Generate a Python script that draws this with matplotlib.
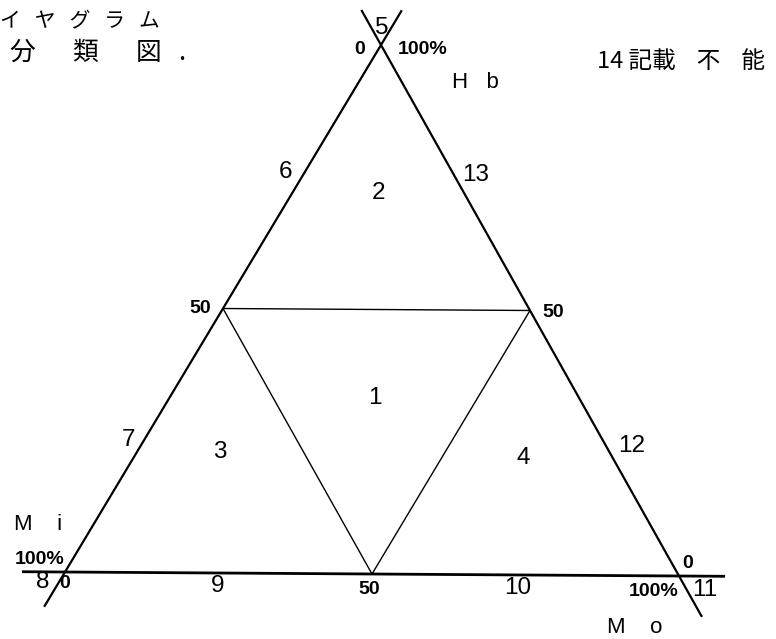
import matplotlib
matplotlib.use("Agg")
import matplotlib.pyplot as plt
from matplotlib.transforms import Affine2D, offset_copy

# ---------------- data ----------------
components = ["Hb", "Mi", "Mo"]
tick_values = [0, 50, 100]
tick_texts = ["0", "50", "100%"]

# region numbers with their ternary positions (Hb %, Mo %); Mi = 100 - Hb - Mo
region_ids = ["1", "2", "3", "4", "5", "6", "7", "8", "9", "10", "11", "12", "13"]
region_hb = [33.3, 72.0, 22.8, 22.1, 103.2, 75.9, 25.0, -1.9, -2.5, -2.5, -2.6, 24.5, 75.5]
region_mo = [33.3, 14.0, 13.5, 63.2, -1.5, -3.1, -2.6, -2.6, 26.2, 75.0, 105.6, 79.6, 28.1]

# component-name labels (Hb %, Mo %)
comp_label_text = ["H   b", "M    i", "M    o"]
comp_label_hb = [93.1, 9.0, -9.7]
comp_label_mo = [19.0, -9.1, 97.8]

title_lines = ["イ   ヤ   グ   ラ   ム", "分\u3000  類\u3000  図   ."]
note_text = "14 記載    不    能"

# ---------------- layout / style ----------------
W, H = 776, 639
V_MI = (65, 572)
V_MO = (679, 576)
V_HB = (381, 45)
OUTER_LW = 1.6
INNER_LW = 1.0
CJK = ["Noto Sans CJK JP", "DejaVu Sans"]
NUM = ["Liberation Sans", "DejaVu Sans"]

fig = plt.figure(figsize=(W / 100, H / 100), dpi=100)
ax = fig.add_axes([0, 0, 1, 1])
ax.set_xlim(0, W)
ax.set_ylim(H, 0)
ax.axis("off")

# ternary (Mo %, Hb %) -> pixel data coordinates
tern = (Affine2D().scale(0.01)
        + Affine2D.from_values(V_MO[0] - V_MI[0], V_MO[1] - V_MI[1],
                               V_HB[0] - V_MI[0], V_HB[1] - V_MI[1],
                               V_MI[0], V_MI[1])
        + ax.transData)

def off(dx, dy):
    return offset_copy(tern, fig=fig, x=dx, y=-dy, units="dots")

# outer edges (extended beyond the vertices)
ax.plot([-7.0, 107.5], [0, 0], color="black", lw=OUTER_LW + 0.4, transform=tern,
        solid_capstyle="butt")
ax.plot([0, 0], [-6.6, 106.6], color="black", lw=OUTER_LW, transform=tern,
        solid_capstyle="butt")
ax.plot([100 - 106.6, 100 + 7.7], [106.6, -7.7], color="black", lw=OUTER_LW,
        transform=tern, solid_capstyle="butt")

# inner 50 % lines
ax.plot([0, 50], [50, 50], color="black", lw=INNER_LW, transform=tern)
ax.plot([50, 50], [0, 50], color="black", lw=INNER_LW, transform=tern)
ax.plot([0, 50], [50, 0], color="black", lw=INNER_LW, transform=tern)

# tick labels
tick_kw = dict(fontsize=14, fontweight="bold", family=NUM)
# Mi axis on the left edge (Mo = 0, Hb = 100 - Mi)
mi_offsets = [(-16, 5), (-12, 0), (-1, -12)]
for t, s, (dx, dy) in zip(tick_values, tick_texts, mi_offsets):
    ax.text(0, 100 - t, s, transform=off(dx, dy), ha="right", va="center", **tick_kw)
# Hb axis on the right edge (Mi = 0)
hb_offsets = [(3, -13), (12, 2), (17, 5)]
for t, s, (dx, dy) in zip(tick_values, tick_texts, hb_offsets):
    ax.text(100 - t, t, s, transform=off(dx, dy), ha="left", va="center", **tick_kw)
# Mo axis on the base (Hb = 0)
mo_offsets = [(0, 12), (-3, 16), (-1, 15)]
mo_ha = ["center", "center", "right"]
for t, s, (dx, dy), ha in zip(tick_values, tick_texts, mo_offsets, mo_ha):
    ax.text(t, 0, s, transform=off(dx, dy), ha=ha, va="center", **tick_kw)

# region numbers
for rid, hb, mo in zip(region_ids, region_hb, region_mo):
    ax.text(mo, hb, rid, transform=tern, ha="center", va="center",
            fontsize=17.5, family=NUM)

# component names
for s, hb, mo in zip(comp_label_text, comp_label_hb, comp_label_mo):
    ax.text(mo, hb, s, transform=tern, ha="center", va="center",
            fontsize=16, family=NUM)

# titles / notes
ax.text(0, 20, title_lines[0], ha="left", va="center", fontsize=15, family=CJK)
ax.text(10, 53, title_lines[1], ha="left", va="center", fontsize=18.5, family=CJK)
ax.text(597, 62, note_text, ha="left", va="center", fontsize=17, family=CJK)

fig.savefig("out.png", dpi=100, facecolor="white")
